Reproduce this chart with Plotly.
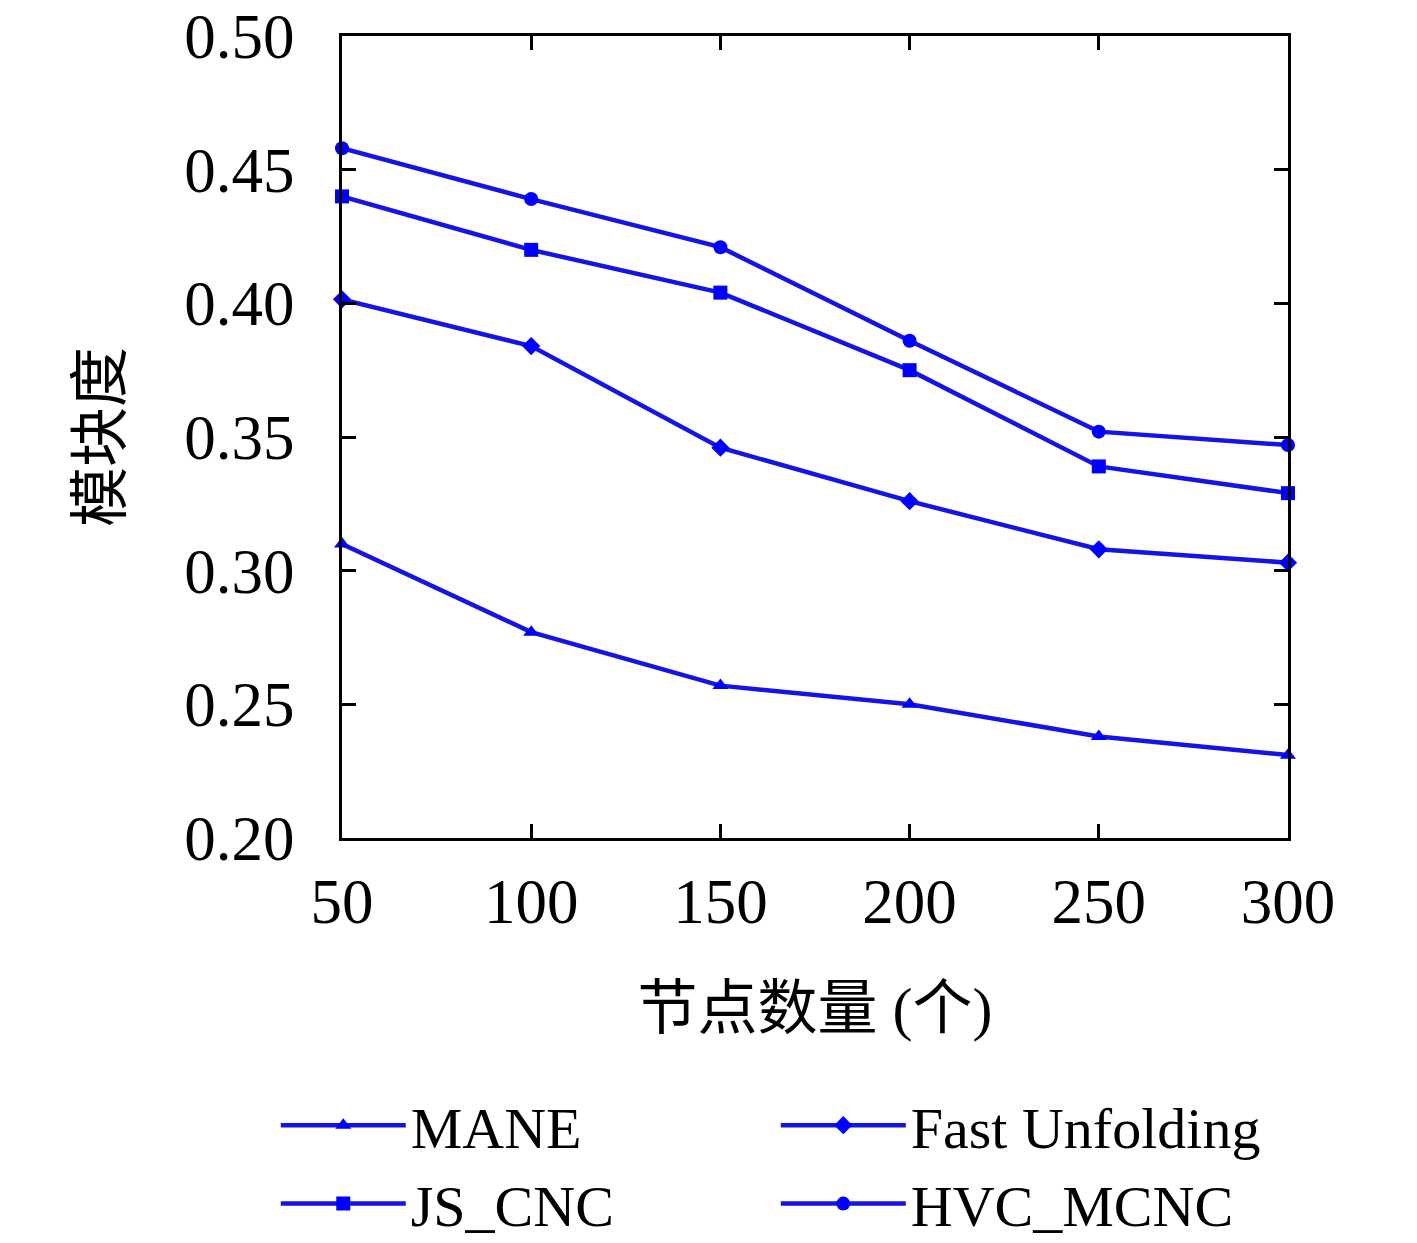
import plotly.graph_objects as go

# node counts on the x axis
nodes = [50, 100, 150, 200, 250, 300]

# modularity per method
mane = [0.310, 0.277, 0.257, 0.250, 0.238, 0.231]
fast_unfolding = [0.4015, 0.384, 0.346, 0.326, 0.308, 0.303]
js_cnc = [0.440, 0.420, 0.404, 0.375, 0.339, 0.329]
hvc_mcnc = [0.458, 0.439, 0.421, 0.386, 0.352, 0.347]

y_ticks = [0.20, 0.25, 0.30, 0.35, 0.40, 0.45, 0.50]
y_tick_text = ["0.20", "0.25", "0.30", "0.35", "0.40", "0.45", "0.50"]

SERIF = "Liberation Serif, DejaVu Serif, serif"
CJK = "Liberation Serif, Noto Sans CJK SC, serif"
LINE = "#1414e6"

series = [
    ("MANE", mane, "triangle-up"),
    ("Fast Unfolding", fast_unfolding, "diamond"),
    ("JS_CNC", js_cnc, "square"),
    ("HVC_MCNC", hvc_mcnc, "circle"),
]

fig = go.Figure()
for name, vals, sym in series:
    fig.add_trace(go.Scatter(
        x=nodes, y=vals, name=name, mode="lines+markers",
        line={"color": LINE, "width": 4.5},
        marker={"symbol": sym, "size": 14, "color": "blue"},
        cliponaxis=False,
    ))

axis_common = dict(
    showline=True, linecolor="black", linewidth=3, mirror="allticks",
    ticks="inside", ticklen=14, tickwidth=3, tickcolor="black",
    showgrid=False, zeroline=False, ticklabeloverflow="allow",
    tickfont={"family": SERIF, "size": 63, "color": "black"},
)

fig.update_xaxes(
    range=[50, 300], tickvals=nodes, ticklabelstandoff=6,
    title={"text": "节点数量 (个)", "font": {"family": CJK, "size": 60, "color": "black"},
           "standoff": 52},
    **axis_common,
)
fig.update_yaxes(
    range=[0.20, 0.50], tickvals=y_ticks, ticktext=y_tick_text, ticklabelstandoff=32,
    title={"text": "模块度", "font": {"family": CJK, "size": 60, "color": "black"},
           "standoff": 44},
    **axis_common,
)

fig.update_layout(
    width=1417, height=1243,
    margin={"l": 334, "r": 137, "t": 28, "b": 413, "autoexpand": False},
    paper_bgcolor="white", plot_bgcolor="white",
    legend={
        "orientation": "h", "x": -0.07, "y": -0.303, "xanchor": "left", "yanchor": "top",
        "xref": "paper", "yref": "paper",
        "entrywidth": 360, "entrywidthmode": "pixels",
        "font": {"family": SERIF, "size": 58, "color": "black"},
        "itemwidth": 125, "tracegroupgap": 0, "bgcolor": "rgba(0,0,0,0)",
    },
)

fig.write_html("out.html")
